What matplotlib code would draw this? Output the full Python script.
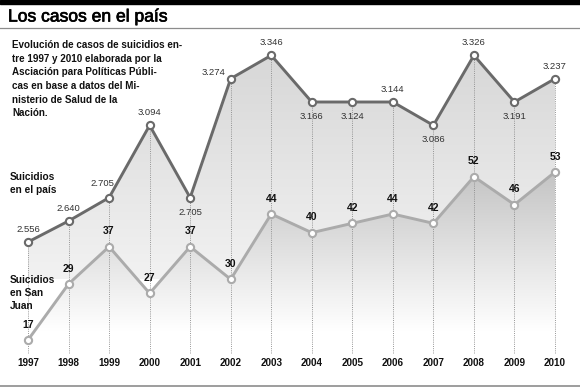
import matplotlib.pyplot as plt
import matplotlib.patheffects as pe
from matplotlib.colors import LinearSegmentedColormap
from matplotlib.patches import Polygon
import numpy as np

plt.rcParams['font.family'] = ['Liberation Sans', 'DejaVu Sans']

anios = [1997, 1998, 1999, 2000, 2001, 2002, 2003,
         2004, 2005, 2006, 2007, 2008, 2009, 2010]
pais = [2556, 2640, 2705, 3094, 2705, 3274, 3346,
        3166, 3124, 3144, 3086, 3326, 3191, 3237]
# La infografía no dibuja la serie del país a escala: altura de cada punto
# tal como aparece, en las mismas unidades que la serie de San Juan.
pais_altura = [38, 42.5, 47.5, 63, 47.5, 73, 78,
               68, 68, 68, 63, 78, 68, 73]
san_juan = [17, 29, 37, 27, 37, 30, 44, 40, 42, 44, 42, 52, 46, 53]

# Dónde va la etiqueta de cada punto del país.
pais_etiqueta = ['arriba', 'arriba', 'arriba_izq', 'arriba', 'abajo', 'izq',
                 'arriba', 'abajo', 'abajo', 'arriba', 'abajo', 'arriba',
                 'abajo', 'arriba']

titulo = 'Los casos en el país'
descripcion = ['Evolución de casos de suicidios en-',
               'tre 1997 y 2010 elaborada por la',
               'Asciación para Políticas Públi-',
               'cas en base a datos del Mi-',
               'nisterio de Salud de la',
               'Nación.']

W, H = 580, 387


def fy(y):
    """Pasar una coordenada vertical en píxeles a fracción de figura."""
    return 1 - y / H


def relleno_degradado(ax, xs, ys, base, c_arriba, c_abajo, y_arriba, y_abajo, z):
    """Rellenar bajo una línea con un degradado vertical."""
    verts = np.column_stack([np.r_[xs, xs[::-1]],
                             np.r_[ys, [base] * len(xs)]])
    poly = Polygon(verts, closed=True, fc='none', ec='none')
    ax.add_patch(poly)
    grad = np.linspace(0, 1, 256).reshape(-1, 1)
    cmap = LinearSegmentedColormap.from_list('g', [c_arriba, c_abajo])
    im = ax.imshow(grad, extent=[xs[0], xs[-1], y_abajo, y_arriba],
                   origin='upper', cmap=cmap, aspect='auto', zorder=z,
                   interpolation='bilinear')
    im.set_clip_path(poly)


fig = plt.figure(figsize=(W / 100, H / 100), dpi=100)
ax = fig.add_axes([0, 0, 1, 1])
ax.axis('off')

x = np.array(anios, dtype=float)
yp = np.array(pais_altura, dtype=float)
ys = np.array(san_juan, dtype=float)

# Áreas sombreadas.
relleno_degradado(ax, x, yp, 14.2, '#d6d6d6', '#f2f2f2', 80, 30, 1)
relleno_degradado(ax, x, ys, 14.2, '#c4c4c4', '#ffffff', 53, 19, 2)

# Líneas punteadas verticales.
ax.vlines(x, 14.2, np.maximum(yp, ys), colors='#8a8a8a', lw=0.6,
          linestyles=(0, (1.2, 1.4)), zorder=3)

# Series.
ax.plot(x, yp, color='#6a6a6a', lw=2.1, zorder=4,
        marker='o', ms=5.2, mfc='white', mec='#6a6a6a', mew=1.5)
ax.plot(x, ys, color='#ababab', lw=2.1, zorder=4,
        marker='o', ms=5.2, mfc='white', mec='#ababab', mew=1.5)

# Etiquetas del país.
desplaz = {'arriba': (0, 9), 'abajo': (0, -10.5), 'arriba_izq': (-5, 10),
           'izq': (-12, 4.5)}
for xi, yi, v, pos in zip(x, yp, pais, pais_etiqueta):
    texto = f'{v:,}'.replace(',', '.')
    ax.annotate(texto, (xi, yi), xytext=desplaz[pos], textcoords='offset points',
                ha='center', va='center', fontsize=6.8, color='#333333', zorder=5)

# Etiquetas de San Juan.
for xi, yi, v in zip(x, ys, san_juan):
    ax.annotate(str(v), (xi, yi), xytext=(0, 11), textcoords='offset points',
                ha='center', va='center', fontsize=7.5, fontweight='bold',
                color='#111111', zorder=5)

# Años.
for xi in x:
    ax.text(xi, 1 - 363 / H, str(int(xi)), transform=ax.get_xaxis_transform(),
            ha='center', va='center', fontsize=7.1, fontweight='bold',
            color='#111111')

# Escalas: 1997 en x=28 px, 2010 en x=555 px; 17 en y=340 px, 53 en y=172 px.
px_anio = (555 - 28) / 13
px_unidad = (340 - 172) / 36
ax.set_xlim(1997 - 28 / px_anio, 2010 + (W - 555) / px_anio)
ax.set_ylim(17 - (H - 340) / px_unidad, 17 + 340 / px_unidad)

# Encabezado.
fig.patches.append(plt.Rectangle((0, fy(4)), 1, 4 / H, transform=fig.transFigure,
                                 color='black', zorder=0))
fig.add_artist(plt.Line2D([0, 1], [fy(28), fy(28)], color='#8c8c8c', lw=0.9))
fig.add_artist(plt.Line2D([0, 1], [fy(385.5), fy(385.5)], color='#8c8c8c', lw=1.2))
fig.text(8 / W, fy(17), titulo, fontsize=12.6, color='black',
         ha='left', va='center',
         path_effects=[pe.withStroke(linewidth=0.5, foreground='black')])

for i, linea in enumerate(descripcion):
    fig.text(12 / W, fy(45 + 13.7 * i), linea, fontsize=7.1, fontweight='bold',
             ha='left', va='center', color='#111111')

for i, linea in enumerate(['Suicidios', 'en el país']):
    fig.text(10 / W, fy(177 + 12.8 * i), linea, fontsize=7.3, fontweight='bold',
             ha='left', va='center', color='#111111')
for i, linea in enumerate(['Suicidios', 'en San', 'Juan']):
    fig.text(10 / W, fy(280 + 12.8 * i), linea, fontsize=7.3, fontweight='bold',
             ha='left', va='center', color='#111111')

fig.savefig('out.png', dpi=100, facecolor='white')
